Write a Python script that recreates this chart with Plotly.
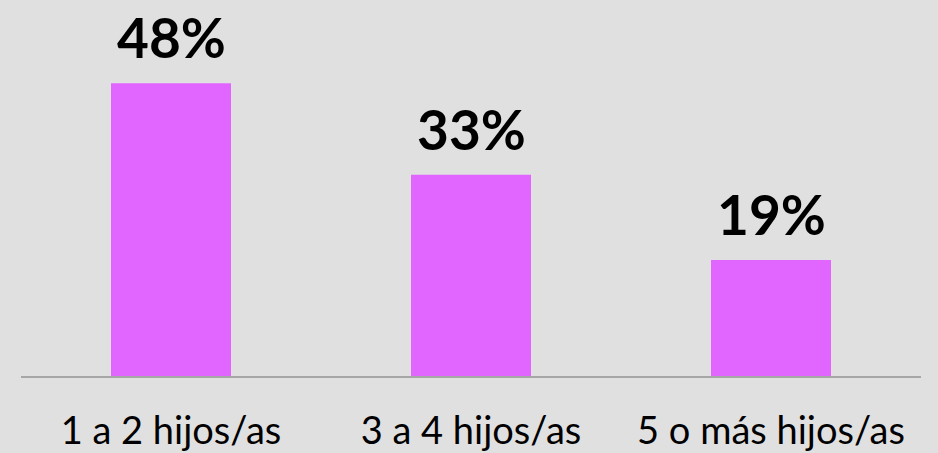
import plotly.graph_objects as go

categories = ["1 a 2 hijos/as", "3 a 4 hijos/as", "5 o más hijos/as"]
values = [48, 33, 19]
labels = ["48%", "33%", "19%"]

fig = go.Figure(go.Bar(x=categories, y=values, marker_color="#E066FF",
                       marker_line_width=0, hoverinfo="skip"))

for c, v, t in zip(categories, values, labels):
    fig.add_annotation(x=c, y=v, text="<b>%s</b>" % t, showarrow=False,
                       yanchor="bottom", yshift=12, borderpad=0,
                       font=dict(family="Lato", size=55, color="black"))

fig.update_layout(
    width=938, height=453,
    paper_bgcolor="#E0E0E0", plot_bgcolor="#E0E0E0",
    margin=dict(l=21, r=17, t=10, b=77),
    bargap=0.6, showlegend=False,
    xaxis=dict(showgrid=False, showline=True, linecolor="#A6A6A6", linewidth=1.5,
               ticks="", tickfont=dict(family="Lato", size=38, color="black"),
               ticklabelstandoff=21, automargin=False),
    yaxis=dict(range=[0, 60], visible=False, showgrid=False, zeroline=False,
               automargin=False),
)
fig.write_html("out.html", config={"displayModeBar": False},
               post_script="document.body.style.margin='0';")
